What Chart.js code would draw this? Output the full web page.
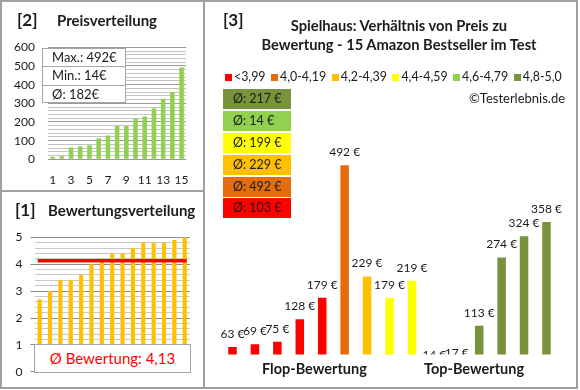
<!DOCTYPE html>
<html>
<head>
<meta charset="utf-8">
<script src="https://cdn.jsdelivr.net/npm/chart.js@4.4.1/dist/chart.umd.min.js"></script>
<style>
  html, body { margin: 0; padding: 0; background: #fff; }
  body { font-family: Lato, "Open Sans", sans-serif; color: #1b1b1b; }
  #wrap { position: relative; width: 580px; height: 390px; overflow: hidden; background: #fff; }
  .abs { position: absolute; white-space: nowrap; }
  canvas { position: absolute; }
  .line { position: absolute; background: #a0a0a0; }
  .hdr { font-weight: bold; line-height: 20px; }
  .info { border: 1px solid #a6a6a6; background: #fff; box-sizing: border-box; }
  .info div { height: 17.3px; line-height: 17.3px; padding-left: 9px; font-size: 13px; border-bottom: 1px solid #a6a6a6; }
  .info div:last-child { border-bottom: none; }
  #legend { display: flex; align-items: center; font-size: 12.4px; line-height: 14px; }
  #legend .it { display: flex; align-items: center; margin-right: 5.5px; }
  #legend .sq { width: 7px; height: 7px; margin-right: 2px; }
  .avg { position: absolute; left: 223px; width: 68px; height: 20px; line-height: 20px; font-size: 12.5px; padding-left: 10px; box-sizing: border-box; }
</style>
</head>
<body>
<div id="wrap">
  <div class="line" style="left:0;top:0;width:578px;height:2px"></div>
  <div class="line" style="left:0;top:387px;width:578px;height:2px"></div>
  <div class="line" style="left:0;top:0;width:2px;height:389px"></div>
  <div class="line" style="left:576px;top:0;width:2px;height:389px"></div>
  <div class="line" style="left:203px;top:0;width:2px;height:389px"></div>
  <div class="line" style="left:0;top:190px;width:204px;height:2px"></div>

  <canvas id="c2" width="201" height="188" style="left:2px;top:2px"></canvas>
  <canvas id="c1" width="201" height="195" style="left:2px;top:192px"></canvas>
  <canvas id="c3" width="371" height="385" style="left:205px;top:2px"></canvas>

  <div class="abs hdr" style="left:17px;top:10px;font-size:17px">[2]</div>
  <div class="abs hdr" style="left:57px;top:10px;font-size:15px">Preisverteilung</div>
  <div class="abs info" id="info" style="left:42px;top:48px;width:84px;height:55px"></div>

  <div class="abs hdr" style="left:15px;top:200px;font-size:17px">[1]</div>
  <div class="abs hdr" style="left:48px;top:200px;font-size:15px">Bewertungsverteilung</div>
  <div class="abs" id="ratingBox" style="left:34px;top:344px;width:157px;height:29px;border:1px solid #a6a6a6;background:#fff;box-sizing:border-box;text-align:center;line-height:27px;font-size:15px;color:#ff0000"></div>

  <div class="abs hdr" style="left:223px;top:10px;font-size:17px">[3]</div>
  <div class="abs" id="title3" style="left:249px;top:16px;width:300px;text-align:center;font-weight:bold;font-size:14.7px;line-height:19.4px"></div>
  <div class="abs" id="legend" style="left:225px;top:70px"></div>
  <div class="abs" id="copy" style="left:469px;top:90px;font-size:13px;line-height:16px">©Testerlebnis.de</div>
  <div id="avgBoxes"></div>
  <div class="abs hdr" id="flop" style="left:262px;top:359px;width:100px;text-align:center;font-size:14.5px"></div>
  <div class="abs hdr" id="top" style="left:424px;top:359px;width:100px;text-align:center;font-size:14.5px"></div>
</div>

<script>
// ---------- DATA ----------
const rankLabels = ['1','2','3','4','5','6','7','8','9','10','11','12','13','14','15'];
const sortedPrices = [14, 17, 63, 69, 75, 113, 128, 179, 179, 219, 229, 274, 324, 358, 492];
const sortedRatings = [2.7, 3.0, 3.4, 3.4, 3.6, 4.0, 4.2, 4.4, 4.4, 4.6, 4.8, 4.8, 4.8, 4.9, 5.0];
const avgRating = 4.13;
const priceInfo = ['Max.: 492€', 'Min.: 14€', 'Ø: 182€'];
const ratingText = 'Ø Bewertung: 4,13';

const productLabels = ['P1','P2','P3','P4','P5','P6','P7','P8','P9','P10','P11','P12','P13','P14','P15'];
const productPrices = [63, 69, 75, 128, 179, 492, 229, 179, 219, 14, 17, 113, 274, 324, 358];
const productGroup  = [0, 0, 0, 0, 0, 1, 2, 3, 3, 4, 4, 5, 5, 5, 5];
const groupLabels = ['<3,99', '4,0-4,19', '4,2-4,39', '4,4-4,59', '4,6-4,79', '4,8-5,0'];
const groupColors = ['#ff0000', '#e46c0a', '#ffc000', '#ffff00', '#92d050', '#77933c'];
const groupAverages = ['Ø: 103 €', 'Ø: 492 €', 'Ø: 229 €', 'Ø: 199 €', 'Ø: 14 €', 'Ø: 217 €'];
const title3 = ['Spielhaus: Verhältnis von Preis zu', 'Bewertung - 15 Amazon Bestseller im Test'];
const sectionLabels = ['Flop-Bewertung', 'Top-Bewertung'];

// ---------- HTML texts ----------
document.getElementById('info').innerHTML = priceInfo.map(t => '<div>' + t + '</div>').join('');
document.getElementById('ratingBox').textContent = ratingText;
document.getElementById('title3').innerHTML = title3.join('<br>');
document.getElementById('legend').innerHTML = groupLabels.map((l, i) =>
  '<div class="it"><div class="sq" style="background:' + groupColors[i] + '"></div>' + l.replace('<', '&lt;') + '</div>').join('');
const avgTops = [89.3, 111, 132.7, 154.8, 176.6, 198.3];
const avgWrap = document.getElementById('avgBoxes');
for (let k = 0; k < 6; k++) {
  const g = 5 - k;
  const d = document.createElement('div');
  d.className = 'avg';
  d.style.top = avgTops[k] + 'px';
  d.style.background = groupColors[g];
  d.textContent = groupAverages[g];
  avgWrap.appendChild(d);
}
document.getElementById('flop').textContent = sectionLabels[0];
document.getElementById('top').textContent = sectionLabels[1];

Chart.defaults.font.family = 'Lato, "Open Sans", sans-serif';
Chart.defaults.color = '#1b1b1b';
const isWhole = (v, step) => Math.abs(v / step - Math.round(v / step)) < 1e-6;

// ---------- Panel [2] Preisverteilung ----------
new Chart(document.getElementById('c2'), {
  type: 'bar',
  data: { labels: rankLabels, datasets: [{ data: sortedPrices, backgroundColor: '#92d050', barPercentage: 0.5, categoryPercentage: 1 }] },
  options: {
    responsive: false, animation: false, devicePixelRatio: 1,
    layout: { padding: { left: 0, right: 14, top: 45.3, bottom: 0 } },
    plugins: { legend: { display: false }, tooltip: { enabled: false } },
    scales: {
      x: {
        grid: { display: false, drawTicks: false }, border: { display: false },
        ticks: { autoSkip: false, maxRotation: 0, padding: 14, font: { size: 12 },
                 callback: (v, i) => (i % 2 === 0 ? rankLabels[i] : '') },
        afterFit: s => { s.height = 30.7; }
      },
      y: {
        min: 0, max: 600,
        grid: { drawTicks: false, color: c => isWhole(c.tick.value, 100) ? '#9a9a9a' : '#c4c4c4' },
        border: { display: false },
        ticks: { stepSize: 20, autoSkip: false, padding: 13, font: { size: 12 },
                 callback: v => isWhole(v, 100) ? Math.round(v) : '' },
        afterFit: s => { s.width = 46; }
      }
    }
  }
});

// ---------- Panel [1] Bewertungsverteilung ----------
const avgLinePlugin = {
  id: 'avgLine',
  afterDatasetsDraw(chart) {
    const meta = chart.getDatasetMeta(0);
    const y = chart.scales.y.getPixelForValue(avgRating);
    const ctx = chart.ctx;
    ctx.save();
    ctx.strokeStyle = '#ff0000';
    ctx.lineWidth = 3.5;
    ctx.beginPath();
    ctx.moveTo(meta.data[0].x - 2, y);
    ctx.lineTo(meta.data[meta.data.length - 1].x + 2, y);
    ctx.stroke();
    ctx.restore();
  }
};
new Chart(document.getElementById('c1'), {
  type: 'bar',
  data: { labels: rankLabels, datasets: [{ data: sortedRatings, backgroundColor: '#ffc000', barPercentage: 0.4, categoryPercentage: 1 }] },
  options: {
    responsive: false, animation: false, devicePixelRatio: 1,
    layout: { padding: { left: 0, right: 13.1, top: 45.3, bottom: 13.4 } },
    plugins: { legend: { display: false }, tooltip: { enabled: false } },
    scales: {
      x: { display: false },
      y: {
        min: 0, max: 5,
        grid: { tickLength: 4, color: c => isWhole(c.tick.value, 1) ? '#8c8c8c' : '#c8c8c8',
                tickColor: c => isWhole(c.tick.value, 1) ? '#8c8c8c' : 'rgba(0,0,0,0)' },
        border: { display: false },
        ticks: { stepSize: 0.2, autoSkip: false, padding: 8, font: { size: 12 },
                 callback: v => isWhole(v, 1) ? Math.round(v) : '' },
        afterFit: s => { s.width = 32.5; }
      }
    }
  },
  plugins: [avgLinePlugin]
});

// ---------- Panel [3] Preis zu Bewertung ----------
const valueLabelPlugin = {
  id: 'valueLabels',
  afterDatasetsDraw(chart) {
    const meta = chart.getDatasetMeta(0);
    const a = chart.chartArea;
    const ctx = chart.ctx;
    ctx.save();
    ctx.beginPath();
    ctx.rect(0, 0, chart.width, a.bottom);
    ctx.clip();
    ctx.font = '12px Lato, "Open Sans", sans-serif';
    ctx.fillStyle = '#1b1b1b';
    ctx.textAlign = 'center';
    ctx.textBaseline = 'middle';
    meta.data.forEach((bar, i) => {
      ctx.fillText(productPrices[i] + ' €', bar.x, bar.y - 13);
    });
    ctx.restore();
  }
};
new Chart(document.getElementById('c3'), {
  type: 'bar',
  data: { labels: productLabels, datasets: [{
    data: productPrices,
    backgroundColor: productGroup.map(g => groupColors[g]),
    barPercentage: 0.38, categoryPercentage: 1, clip: 0
  }] },
  options: {
    responsive: false, animation: false, devicePixelRatio: 1,
    layout: { padding: { left: 16.3, right: 18.3, top: 128, bottom: 32.5 } },
    plugins: { legend: { display: false }, tooltip: { enabled: false } },
    scales: {
      x: { display: false },
      y: { display: false, min: 45, max: 575 }
    }
  },
  plugins: [valueLabelPlugin]
});
</script>
</body>
</html>
